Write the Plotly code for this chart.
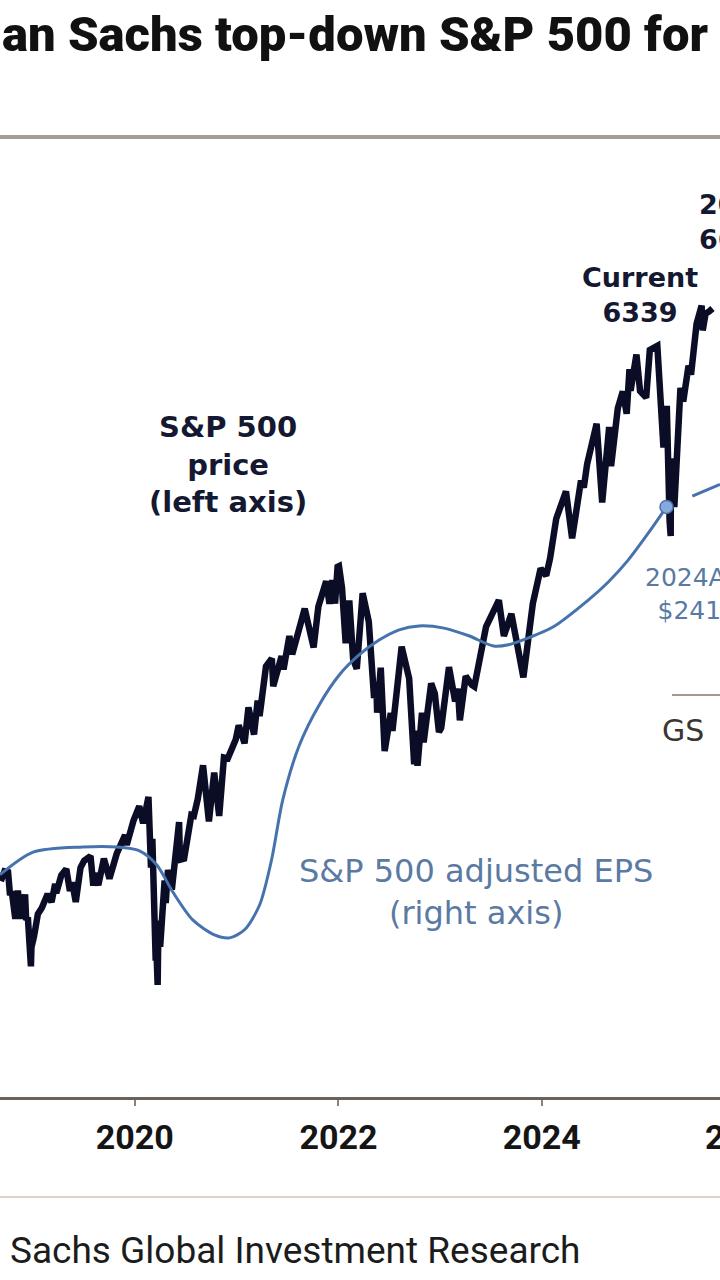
import plotly.graph_objects as go

# ---------------- data ----------------
price_dates = [
    "2018-09-07", "2018-09-20", "2018-10-03", "2018-10-10", "2018-10-16", "2018-10-29",
    "2018-11-07", "2018-11-20", "2018-11-30", "2018-12-03", "2018-12-07", "2018-12-13",
    "2018-12-24", "2018-12-26", "2019-01-04", "2019-01-18", "2019-02-01", "2019-02-22",
    "2019-03-08", "2019-03-21", "2019-03-25", "2019-04-12", "2019-04-30", "2019-05-13",
    "2019-05-21", "2019-06-03", "2019-06-20", "2019-07-03", "2019-07-26", "2019-08-05",
    "2019-08-09", "2019-08-23", "2019-09-12", "2019-10-02", "2019-10-28", "2019-11-27",
    "2019-12-03", "2019-12-27", "2020-01-17", "2020-01-31", "2020-02-19", "2020-02-28",
    "2020-03-04", "2020-03-09", "2020-03-10", "2020-03-16", "2020-03-17", "2020-03-23",
    "2020-03-26", "2020-04-01", "2020-04-17", "2020-04-21", "2020-04-29", "2020-05-13",
    "2020-06-08", "2020-06-11", "2020-06-26", "2020-07-22", "2020-07-31", "2020-08-14",
    "2020-09-02", "2020-09-23", "2020-10-12", "2020-10-30", "2020-11-16", "2020-11-30",
    "2020-12-28", "2021-01-08", "2021-01-29", "2021-02-12", "2021-03-04", "2021-03-17",
    "2021-03-24", "2021-04-16", "2021-05-07", "2021-05-12", "2021-06-11", "2021-06-18",
    "2021-07-09", "2021-07-19", "2021-08-27", "2021-09-02", "2021-10-04", "2021-10-21",
    "2021-11-18", "2021-11-30", "2021-12-10", "2021-12-20", "2021-12-29", "2022-01-03",
    "2022-01-14", "2022-01-27", "2022-02-09", "2022-02-23", "2022-03-08", "2022-03-29",
    "2022-04-20", "2022-05-09", "2022-05-17", "2022-05-20", "2022-06-02", "2022-06-16",
    "2022-07-08", "2022-07-14", "2022-08-16", "2022-09-12", "2022-09-30", "2022-10-04",
    "2022-10-12", "2022-10-28", "2022-11-03", "2022-11-30", "2022-12-13", "2022-12-28",
    "2023-01-05", "2023-02-02", "2023-02-24", "2023-03-06", "2023-03-13", "2023-04-03",
    "2023-04-25", "2023-05-04", "2023-06-15", "2023-07-31", "2023-08-18", "2023-09-14",
    "2023-10-06", "2023-10-27", "2023-11-30", "2023-12-28", "2024-01-17", "2024-01-31",
    "2024-02-22", "2024-03-28", "2024-04-19", "2024-05-21", "2024-05-31", "2024-06-12",
    "2024-07-16", "2024-07-25", "2024-08-05", "2024-08-30", "2024-09-06", "2024-09-30",
    "2024-10-18", "2024-11-01", "2024-11-11", "2024-11-15", "2024-12-06", "2024-12-19",
    "2025-01-10", "2025-01-23", "2025-02-19", "2025-03-13", "2025-03-25", "2025-04-04",
    "2025-04-08", "2025-04-09", "2025-04-21", "2025-05-13", "2025-05-23", "2025-06-11",
    "2025-06-20", "2025-07-10", "2025-07-28", "2025-08-01", "2025-08-11", "2025-08-25",
    "2025-09-05",
]
price_values = [
    2872, 2931, 2926, 2786, 2810, 2641,
    2814, 2642, 2760, 2790, 2633, 2651,
    2351, 2468, 2532, 2671, 2707, 2793,
    2743, 2855, 2798, 2907, 2946, 2812,
    2864, 2744, 2954, 2996, 3025, 2844,
    2919, 2847, 3009, 2887, 3039, 3153,
    3093, 3240, 3330, 3225, 3386, 2954,
    3130, 2747, 2882, 2386, 2529, 2237,
    2630, 2470, 2875, 2737, 2940, 2820,
    3232, 3002, 3009, 3276, 3271, 3373,
    3580, 3237, 3535, 3270, 3627, 3622,
    3735, 3824, 3714, 3934, 3768, 3975,
    3881, 4185, 4232, 4063, 4247, 4166,
    4370, 4258, 4509, 4537, 4300, 4550,
    4705, 4567, 4712, 4568, 4793, 4797,
    4663, 4326, 4587, 4226, 4170, 4631,
    4459, 3991, 4088, 3901, 4176, 3667,
    3899, 3790, 4305, 4110, 3586, 3791,
    3577, 3901, 3720, 4080, 4019, 3783,
    3808, 4180, 3970, 4048, 3855, 4125,
    4071, 4061, 4426, 4589, 4370, 4505,
    4308, 4117, 4568, 4783, 4739, 4846,
    5087, 5254, 4967, 5321, 5278, 5421,
    5667, 5400, 5186, 5648, 5408, 5762,
    5865, 5729, 6001, 5870, 6090, 5867,
    5827, 6119, 6144, 5522, 5777, 5074,
    4982, 5457, 5158, 5886, 5803, 6022,
    5968, 6280, 6390, 6238, 6339, 6355,
    6372,
]

eps_dates = [
    "2018-09-04", "2019-01-01", "2019-06-28", "2019-10-28", "2020-01-18", "2020-03-20",
    "2020-05-16", "2020-07-27", "2020-10-13", "2020-12-06", "2021-01-29", "2021-03-24",
    "2021-05-06", "2021-06-15", "2021-08-14", "2021-10-24", "2022-01-04", "2022-03-16",
    "2022-05-27", "2022-08-07", "2022-10-17", "2023-01-15", "2023-04-14", "2023-07-12",
    "2023-09-04", "2023-11-14", "2024-02-12", "2024-06-17", "2024-08-27", "2024-11-07",
    "2025-01-18", "2025-03-24",
]
eps_values = [
    154.8, 160.1, 161.3, 161.3, 160.4, 157.1,
    150.8, 144.2, 140.7, 140.0, 141.9, 147.7,
    158.3, 172.3, 185.2, 194.6, 201.6, 206.3,
    209.8, 212.2, 213.1, 212.6, 210.8, 208.4,
    208.7, 210.3, 212.9, 219.2, 223.4, 228.6,
    234.9, 241.0,
]

eps_forecast_dates = ["2025-03-24", "2026-03-24"]
eps_forecast_values = [241.0, 251.0]

actual_point_date = ["2025-03-24"]
actual_point_value = [241.0]

tick_vals = ["2020-01-01", "2022-01-01", "2024-01-01"]
tick_text = ["2020", "2022", "2024"]

# ---------------- layout helpers ----------------
W, H = 720, 1280
TOP, BOTTOM = 140, 1097


def fx(px):
    return px / W


def fy(py):
    return (BOTTOM - py) / (BOTTOM - TOP)


PRICE_COLOR = "#0b0d26"
EPS_COLOR = "#4673ad"
EPS_TEXT = "#5a7aa3"
LABEL_FONT = "DejaVu Sans, Verdana, sans-serif"
TITLE_FONT = "Roboto, sans-serif"
AXFONT = "Roboto, sans-serif"

fig = go.Figure()

fig.add_trace(go.Scatter(
    x=price_dates, y=price_values, mode="lines",
    line=dict(color=PRICE_COLOR, width=6.5), yaxis="y", showlegend=False,
    hoverinfo="skip",
))
fig.add_trace(go.Scatter(
    x=eps_dates, y=eps_values, mode="lines",
    line=dict(color=EPS_COLOR, width=3, shape="spline", smoothing=0.8),
    yaxis="y2", showlegend=False, hoverinfo="skip",
))
fig.add_trace(go.Scatter(
    x=eps_forecast_dates, y=eps_forecast_values, mode="lines",
    line=dict(color=EPS_COLOR, width=3, dash="0px,28px,30px,12px"),
    yaxis="y2", showlegend=False, hoverinfo="skip",
))
fig.add_trace(go.Scatter(
    x=actual_point_date, y=actual_point_value, mode="markers",
    marker=dict(size=13, color="#86aadb", line=dict(color=EPS_COLOR, width=1.5)),
    yaxis="y2", showlegend=False, hoverinfo="skip",
))


def ann(text, px, py, size, color, family=LABEL_FONT, xanchor="center", align="center",
        weight="normal"):
    return dict(text=text, xref="paper", yref="paper", x=fx(px), y=fy(py),
                xanchor=xanchor, yanchor="middle", align=align, showarrow=False,
                font=dict(family=family, size=size, color=color, weight=weight))


annotations = [
    ann("an Sachs top-down S&P 500 for", 0, 35, 49, "#111111",
        family=TITLE_FONT, xanchor="left", align="left", weight=900),
    ann("S&P 500<br>price<br>(left axis)", 228, 465, 29, "#141830", weight="bold"),
    ann("S&P 500 adjusted EPS<br>(right axis)", 476, 892, 32, EPS_TEXT),
    ann("Current<br>6339", 640, 295, 27, "#141830", weight="bold"),
    ann("2025E<br>6600", 697, 222, 27, "#141830", xanchor="left", align="left",
        weight="bold"),
    ann("2024A:<br>$241", 689, 594, 25, EPS_TEXT),
    ann("GS", 660, 730, 30, "#3a3631", xanchor="left", align="left"),
    ann("2026", 744, 1137, 34, "#151515", family=AXFONT, weight="bold"),
    ann("Sachs Global Investment Research", 8, 1250, 37, "#1c1c1c",
        family=TITLE_FONT, xanchor="left", align="left"),
]

shapes = [
    dict(type="line", xref="paper", yref="paper", x0=0, x1=1, y0=fy(137), y1=fy(137),
         line=dict(color="#a59d92", width=4)),
    dict(type="line", xref="paper", yref="paper", x0=0, x1=1, y0=fy(1197), y1=fy(1197),
         line=dict(color="#dcd3c8", width=2)),
    dict(type="line", xref="paper", yref="paper", x0=fx(672), x1=1, y0=fy(695), y1=fy(695),
         line=dict(color="#a39a8e", width=2)),
]

fig.update_layout(
    width=W, height=H,
    margin=dict(l=0, r=0, t=TOP, b=H - BOTTOM),
    paper_bgcolor="white", plot_bgcolor="white",
    xaxis=dict(
        type="date", range=["2018-09-04", "2025-10-02"],
        tickvals=tick_vals, ticktext=tick_text,
        showgrid=False, zeroline=False,
        showline=True, linecolor="#6b635a", linewidth=3,
        ticks="outside", ticklen=6, tickwidth=1.5, tickcolor="#8a8278",
        ticklabelstandoff=2,
        tickfont=dict(family=AXFONT, size=34, color="#151515", weight="bold"),
    ),
    yaxis=dict(range=[1552, 7402], visible=False, showgrid=False, zeroline=False),
    yaxis2=dict(range=[102.7, 327.0], overlaying="y", side="right", visible=False,
                showgrid=False, zeroline=False),
    annotations=annotations,
    shapes=shapes,
    font=dict(family=LABEL_FONT),
)

fig.write_html(
    "out.html",
    config={"displayModeBar": False},
    post_script="document.body.style.margin='0';document.body.style.padding='0';",
)
